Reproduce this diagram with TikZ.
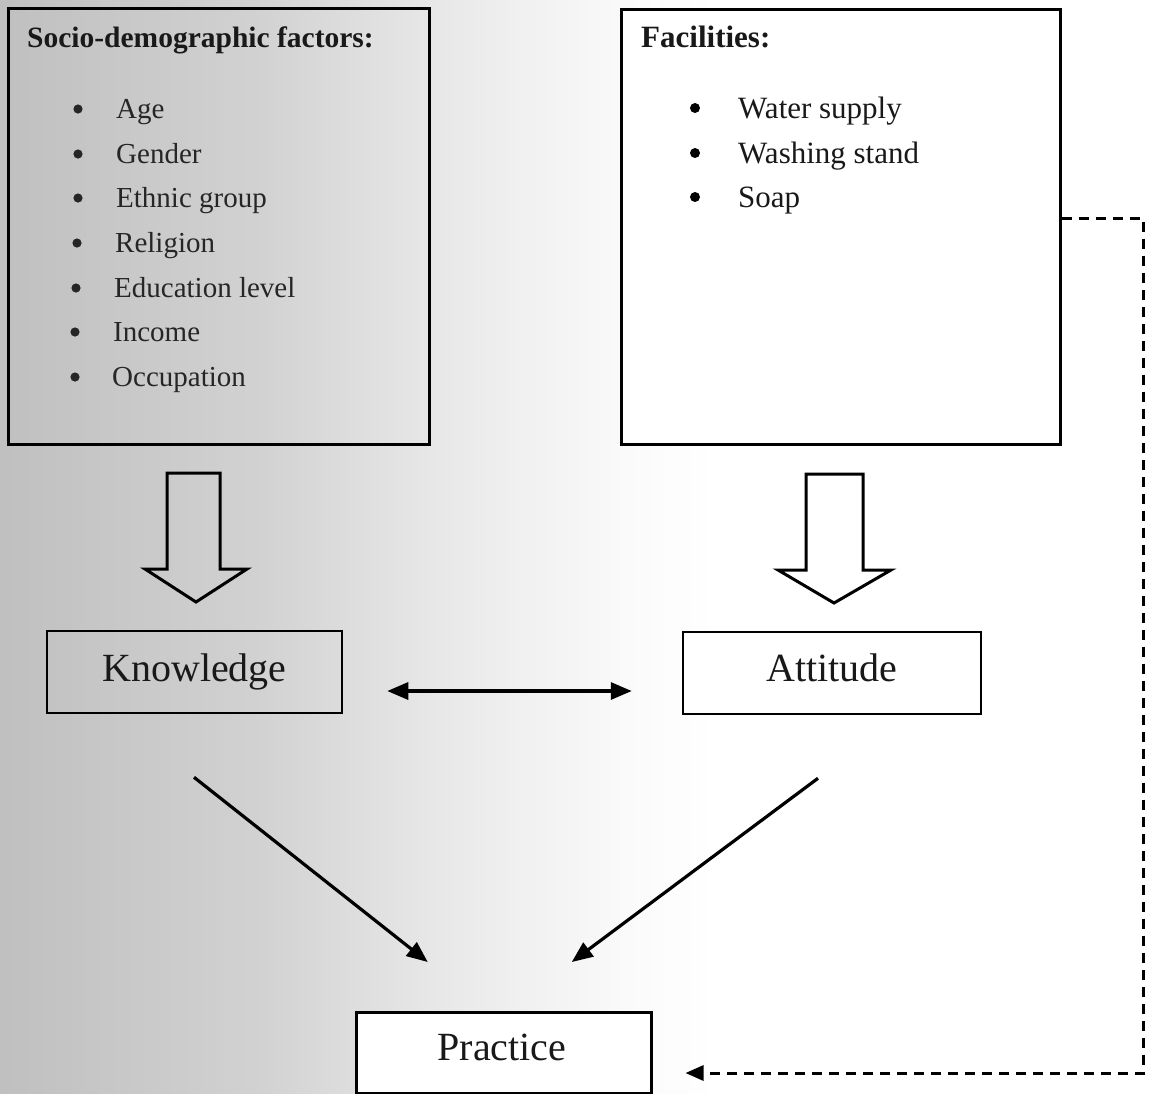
\documentclass[tikz,border=0pt]{standalone}
\usepackage{fontspec}
\setmainfont{Liberation Serif}
\usetikzlibrary{arrows.meta,calc}
\pgfdeclarehorizontalshading{bgshade}{100bp}{color(0bp)=(black!42); color(1bp)=(black!35); color(20bp)=(black!28); color(36bp)=(black!18); color(44bp)=(black!9); color(52bp)=(black!2); color(56bp)=(white); color(100bp)=(white)}
\tikzset{
  boxline/.style={draw=black, line width=2.5pt},
  itemtext/.style={anchor=base west, inner sep=0pt, font=\fontsize{29}{34}\selectfont, text=black!85},
  itemtextr/.style={anchor=base west, inner sep=0pt, font=\fontsize{31}{36}\selectfont, text=black!90},
  titletext/.style={anchor=base west, inner sep=0pt, font=\fontsize{29.5}{34}\selectfont\bfseries, text=black!90},
  bigtext/.style={font=\fontsize{40}{46}\selectfont, text=black!90},
  blk/.style={draw=black, line width=3pt, line join=miter},
  conn/.style={line width=3.2pt, draw=black, -{Triangle[length=21pt,width=17pt]}},
  dconn/.style={line width=3.2pt, draw=black, {Triangle[length=21pt,width=17pt]}-{Triangle[length=21pt,width=17pt]}},
  dashconn/.style={line width=3pt, draw=black, dash pattern=on 10pt off 7pt, -{Triangle[length=18pt,width=15pt]}},
}
\begin{document}
\begin{tikzpicture}[x=1pt,y=-1pt]
\useasboundingbox (0,0) rectangle (1155,1093);
\fill[white] (0,0) rectangle (1155,1093);
\shade[shading=bgshade] (0,0) rectangle (1155,1093);
% left box
\node[boxline, anchor=north west, minimum width=421pt, minimum height=436pt, inner sep=0pt] (sd) at (7,7) {};
\node[titletext] (sdt) at (27,47) {Socio-demographic factors:};
\foreach \n/\y/\bx/\tx/\t in {a/118/78/116/Age, b/163/78/116/Gender, c/207/78/116/Ethnic group, d/252/77/115/Religion, e/297/76/114/Education level, f/341/75/113/Income, g/386/75/112/Occupation}{
  \fill[black!85] (\bx,\y-9) circle (4.6pt);
  \node[itemtext] (sd\n) at (\tx,\y) {\t};
}
% right box
\node[boxline, fill=white, anchor=north west, minimum width=439pt, minimum height=435pt, inner sep=0pt] (fac) at (620,8) {};
\node[titletext, font=\fontsize{31}{36}\selectfont\bfseries] (fact) at (641,47) {Facilities:};
\foreach \n/\y/\t in {a/118/Water supply, b/163/Washing stand, c/207/Soap}{
  \fill[black] (695,\y-10) circle (5pt);
  \node[itemtextr] (fac\n) at (738,\y) {\t};
}
% block arrows
\draw[blk] (167,473) -- (220,473) -- (220,569) -- (247,569) -- (196,602) -- (145,569) -- (167,569) -- cycle;
\draw[blk, fill=white] (806,474) -- (863,474) -- (863,570) -- (891,570) -- (834,603) -- (778,570) -- (806,570) -- cycle;
% middle boxes
\node[boxline, minimum width=295pt, minimum height=82pt, inner sep=0pt] (kn) at (194.5,672) {};
\node[bigtext, inner sep=0pt] (knt) at (194.5,672) {Knowledge};
\node[boxline, fill=white, minimum width=298pt, minimum height=82pt, inner sep=0pt] (att) at (832,673) {};
\node[bigtext, inner sep=0pt] (attt) at (832,668) {Attitude};
\node[boxline, fill=white, anchor=north west, minimum width=295pt, minimum height=81pt, inner sep=0pt] (pr) at (355,1011) {};
\node[bigtext, inner sep=0pt] (prt) at (502,1047) {Practice};
% connectors
\draw[dconn] ($(kn.east)+(44,19)$) -- ($(att.west)+(-50,18)$);
\draw[conn] ($(kn.south)+(-0.5,63)$) -- ($(pr.north)+(-76,-49)$);
\draw[conn] ($(att.south)+(-14,63)$) -- ($(pr.north)+(68,-49)$);
\coordinate (c1) at (1143,218);
\coordinate (c2) at (1143,1073);
\draw[dashconn] (fac.east |- c1) -- (c1) -- (c2) -- ($(pr.east |- c2)+(33,0)$);
\end{tikzpicture}
\end{document}
